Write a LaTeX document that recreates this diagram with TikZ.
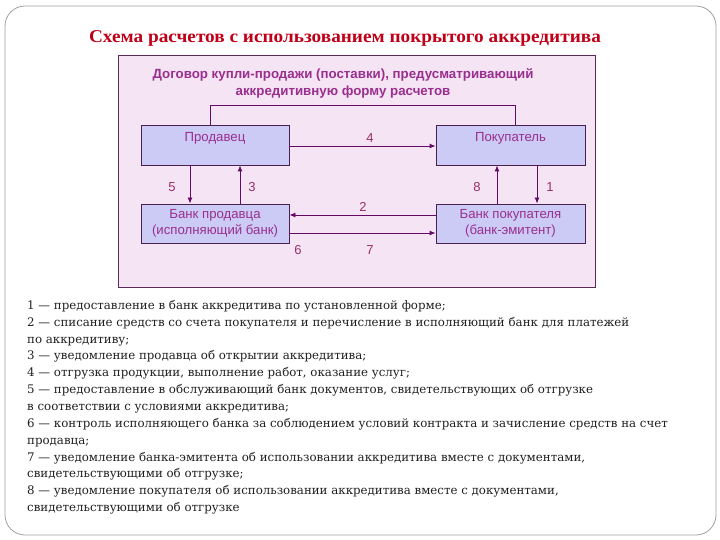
\documentclass[tikz,border=0pt]{standalone}
\usepackage{fontspec}
\setmainfont{Liberation Serif}
\newfontfamily\arialf{Liberation Sans}
\newfontfamily\legf{DejaVu Serif}
\usetikzlibrary{arrows.meta}
\definecolor{frameC}{HTML}{A0A0A0}
\definecolor{titleC}{HTML}{C00018}
\definecolor{panelC}{HTML}{F4E4F4}
\definecolor{panelB}{HTML}{5A2A5A}
\definecolor{nodeF}{HTML}{CBCBF5}
\definecolor{nodeB}{HTML}{4A2050}
\definecolor{txtC}{HTML}{9A2F8E}
\definecolor{lineC}{HTML}{640A64}
\definecolor{numC}{HTML}{9A2F6A}
\definecolor{legC}{HTML}{202020}
\tikzset{
  boxnode/.style={draw=nodeB, fill=nodeF, line width=0.9pt, minimum width=148pt, minimum height=40pt, inner sep=0pt},
  boxtext/.style={text=txtC, font=\arialf\fontsize{13.2}{15.5}\selectfont, align=center, inner sep=0pt},
  numlab/.style={text=numC, font=\arialf\fontsize{13}{15}\selectfont, inner sep=0pt},
  conn/.style={draw=lineC, line width=0.9pt},
  arr/.style={conn, -{Latex[length=6pt,width=5pt]}},
}
\begin{document}
\begin{tikzpicture}[x=1pt,y=-1pt]
\useasboundingbox (0,0) rectangle (720,540);
\draw[frameC, line width=0.8pt, rounded corners=20pt] (5,6) rectangle (716,535);
\node[text=titleC, font=\bfseries\fontsize{18}{20}\selectfont, inner sep=0pt] (title) at (345,38) {\scalebox{1.07}[1]{Схема расчетов с использованием покрытого аккредитива}};
\draw[draw=panelB, fill=panelC, line width=1pt] (118,56) rectangle (595,287);
\node[text=txtC, font=\arialf\bfseries\fontsize{13.3}{16.5}\selectfont, align=center, inner sep=0pt] (hdr) at (343,83.5) {Договор купли-продажи (поставки), предусматривающий\\аккредитивную форму расчетов};
\node[boxnode] (s) at (215,145) {};
\node[boxtext] (st) at (215,138) {Продавец};
\node[boxnode, minimum width=149pt] (b) at (510.5,145) {};
\node[boxtext] (bt) at (510.5,138) {Покупатель};
\node[boxnode, minimum height=39pt, boxtext, inner sep=0pt] (sb) at (215,223.5) {Банк продавца\\(исполняющий банк)};
\node[boxnode, minimum width=149pt, minimum height=39pt, boxtext] (bb) at (510.5,223.5) {Банк покупателя\\(банк-эмитент)};
\draw[conn] ([xshift=-5pt]s.north) -- ++(0,-19) -| ([xshift=4.5pt]b.north);
\draw[arr] ([yshift=-1pt]s.east) -- ([yshift=-1pt]b.west);
\draw[arr] ([xshift=-25pt]s.south) -- ([xshift=-25pt]sb.north);
\draw[arr] ([xshift=25pt]sb.north) -- ([xshift=25pt]s.south);
\draw[arr] ([xshift=-13.5pt]bb.north) -- ([xshift=-13.5pt]b.south);
\draw[arr] ([xshift=26.5pt]b.south) -- ([xshift=26.5pt]bb.north);
\draw[arr] ([yshift=8.5pt]bb.west) -- ([yshift=8.5pt]sb.east);
\draw[arr] ([yshift=-9.5pt]sb.east) -- ([yshift=-9.5pt]bb.west);
\node[numlab] (n4) at (370,138) {4};
\node[numlab] (n5) at (172,187) {5};
\node[numlab] (n3) at (252,187) {3};
\node[numlab] (n8) at (477,187) {8};
\node[numlab] (n1) at (550,187) {1};
\node[numlab] (n2) at (363,207) {2};
\node[numlab] (n6) at (298,250) {6};
\node[numlab] (n7) at (370,250) {7};
\node[anchor=north west, text=legC, font=\legf\fontsize{11.8}{16.85}\selectfont, align=left, inner sep=0pt] (leg) at (27,300) {1 — предоставление в банк аккредитива по установленной форме;\\
2 — списание средств со счета покупателя и перечисление в исполняющий банк для платежей\\
по аккредитиву;\\
3 — уведомление продавца об открытии аккредитива;\\
4 — отгрузка продукции, выполнение работ, оказание услуг;\\
5 — предоставление в обслуживающий банк документов, свидетельствующих об отгрузке\\
в соответствии с условиями аккредитива;\\
6 — контроль исполняющего банка за соблюдением условий контракта и зачисление средств на счет\\
продавца;\\
7 — уведомление банка-эмитента об использовании аккредитива вместе с документами,\\
свидетельствующими об отгрузке;\\
8 — уведомление покупателя об использовании аккредитива вместе с документами,\\
свидетельствующими об отгрузке};
\end{tikzpicture}
\end{document}
